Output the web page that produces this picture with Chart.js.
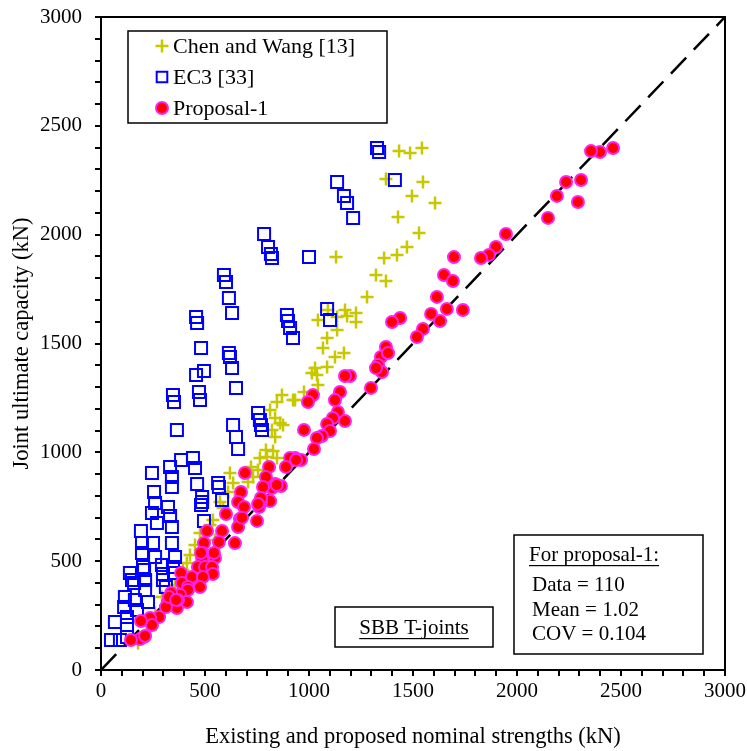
<!DOCTYPE html>
<html><head><meta charset="utf-8">
<script src="https://cdn.jsdelivr.net/npm/chart.js@4.4.1/dist/chart.umd.min.js"></script>
<style>html,body{margin:0;padding:0;background:#fff;}</style>
</head><body>
<canvas id="c" width="747" height="751"></canvas>
<script>
// ---- data ----
const seriesNames = ['Chen and Wang [13]', 'EC3 [33]', 'Proposal-1'];
const chenX = [1543,1486,1433,1370,1548,1495,1606,1428,1529,1471,1423,1361,1130,1322,1370,1279,1173,1226,1091,1043,1135,1226,1183,1135,1087,1067,1168,1125,1087,1029,1014,1038,1043,976,933,870,846,923,813,837,875,822,837,861,793,798,846,764,827,721,731,620,635,707,611,572,587,538,524,476,452,428,413,394,293,260,178,356,332,236,500,548,668,755];
const chenY = [2398,2375,2384,2256,2242,2178,2145,2081,2008,1943,1907,1893,1897,1815,1787,1714,1654,1640,1654,1608,1622,1599,1626,1562,1525,1479,1456,1438,1392,1387,1364,1355,1309,1277,1240,1263,1231,1240,1194,1158,1126,1103,1070,1135,1011,979,974,974,1006,933,887,905,859,864,818,772,744,689,666,629,574,528,492,459,335,262,124,391,322,184,505,597,804,919];
const ecX = [1327,1337,1413,1135,1168,1183,1212,784,803,817,822,1000,591,601,615,630,457,462,894,899,909,923,1087,1101,481,615,620,630,457,495,649,346,351,471,476,365,635,649,659,755,764,769,774,385,442,452,245,332,341,341,462,563,567,486,486,481,582,255,260,245,269,322,332,341,495,192,197,250,197,260,341,356,139,207,212,149,293,298,298,312,346,351,212,159,115,111,163,173,125,67,125,48,91,125,226,202];
const ecY = [2398,2380,2251,2242,2178,2145,2077,2003,1943,1911,1893,1897,1815,1783,1709,1640,1622,1594,1631,1603,1571,1525,1659,1608,1479,1456,1438,1387,1355,1374,1296,1263,1231,1277,1240,1103,1126,1070,1015,1181,1149,1126,1103,965,974,928,905,933,887,841,855,859,841,795,772,758,781,818,767,721,675,749,707,657,685,639,583,583,538,519,583,519,446,459,413,413,482,441,413,381,473,446,368,400,335,289,322,276,243,221,207,138,138,152,312,473];
const propX = [2462,2399,2356,2308,2236,2192,2293,2149,1947,1899,1865,1827,1697,1649,1692,1615,1663,1740,1587,1630,1438,1399,1548,1519,1370,1346,1380,1332,1351,1322,1197,1173,1298,1149,1125,1019,995,1139,1173,1115,1087,1101,1062,1038,976,1024,933,909,962,889,865,837,808,822,813,692,793,779,673,769,760,659,688,750,601,668,659,582,510,644,567,495,490,548,486,466,500,534,385,437,538,490,476,389,418,418,380,337,322,365,312,413,279,236,245,192,207,188,144,370,327,769,755,543,938,212,361,481,678,845];
const propY = [2398,2380,2384,2251,2242,2178,2150,2077,2003,1943,1907,1893,1897,1815,1787,1714,1659,1654,1636,1603,1617,1599,1567,1530,1484,1438,1456,1401,1369,1387,1351,1351,1296,1277,1240,1263,1231,1185,1144,1158,1130,1098,1075,1066,1103,1015,974,974,965,933,845,855,933,836,776,905,887,841,818,772,749,772,749,685,717,694,657,639,639,583,588,583,538,515,515,473,473,473,446,427,441,427,381,400,381,368,345,354,312,285,289,312,243,239,207,225,152,142,138,322,335,790,763,538,965,156,322,538,700,850];
const lineX = [0, 3000];
const lineY = [0, 3000];
const axisMin = 0, axisMax = 3000, minorStep = 100, majorStep = 500;
const xTitle = 'Existing and proposed nominal strengths (kN)';
const yTitle = 'Joint ultimate capacity (kN)';
const boxTitle = 'SBB T-joints';
const statLines = ['For proposal-1:', 'Data = 110', 'Mean = 1.02', 'COV = 0.104'];

const zip = (xs, ys) => xs.map((x, i) => ({x, y: ys[i]}));
const FONT = "'Liberation Serif', 'Times New Roman', serif";

const styles = [
  {pointStyle:'cross', radius:6.5, borderWidth:2.5, borderColor:'#c8c800', backgroundColor:'#c8c800'},
  {pointStyle:'rect', radius:8.5, borderWidth:2, borderColor:'#0000ff', backgroundColor:'rgba(0,0,0,0)'},
  {pointStyle:'circle', radius:6, borderWidth:2, borderColor:'#ff22ee', backgroundColor:'#ff0000'}
];

function mk(i, data, order) {
  const s = styles[i];
  return {label: seriesNames[i], data, order, showLine:false,
    pointStyle: s.pointStyle, pointRadius: s.radius, pointHoverRadius: s.radius,
    pointBorderWidth: s.borderWidth, borderColor: s.borderColor, backgroundColor: s.backgroundColor,
    pointBorderColor: s.borderColor, pointBackgroundColor: s.backgroundColor};
}

const deco = {
  id:'deco',
  afterDraw(chart) {
    const ctx = chart.ctx, a = chart.chartArea;
    ctx.save();
    ctx.strokeStyle = '#000'; ctx.lineWidth = 2;
    ctx.strokeRect(a.left, a.top, a.right - a.left, a.bottom - a.top);
    // legend
    ctx.lineWidth = 1.5;
    ctx.strokeRect(128, 31, 259, 92);
    ctx.font = '22px ' + FONT; ctx.fillStyle = '#000';
    ctx.textBaseline = 'middle'; ctx.textAlign = 'left';
    const ly = [46, 77, 108];
    for (let i = 0; i < 3; i++) {
      const s = styles[i];
      ctx.save();
      ctx.strokeStyle = s.borderColor; ctx.fillStyle = s.backgroundColor; ctx.lineWidth = s.borderWidth;
      Chart.helpers.drawPoint(ctx, {pointStyle:s.pointStyle, radius: i===1 ? 7.5 : s.radius, borderWidth:s.borderWidth, rotation:0}, 162, ly[i]);
      ctx.restore();
      ctx.fillText(seriesNames[i], 173, ly[i] + 1);
    }
    // SBB box
    ctx.lineWidth = 1.5;
    ctx.strokeRect(335, 607, 158, 40);
    ctx.font = '21px ' + FONT; ctx.textAlign = 'center';
    ctx.fillText(boxTitle, 414, 628);
    let w = ctx.measureText(boxTitle).width;
    ctx.fillRect(414 - w/2, 638, w, 1.2);
    // stats box
    ctx.strokeRect(514, 535, 189, 119);
    ctx.textAlign = 'left';
    ctx.fillText(statLines[0], 529, 555);
    w = ctx.measureText(statLines[0]).width;
    ctx.fillRect(529, 565, w, 1.2);
    ctx.fillText(statLines[1], 532, 585);
    ctx.fillText(statLines[2], 532, 610);
    ctx.fillText(statLines[3], 532, 634);
    ctx.restore();
  }
};

function axis(title, isX) {
  return {
    type:'linear', min:axisMin, max:axisMax,
    ticks:{stepSize:minorStep, autoSkip:false, maxRotation:0, minRotation:0, padding: isX ? 3 : 13,
      color:'#000', font:{family:FONT, size:21},
      callback: v => (v % majorStep === 0 ? String(v) : '')},
    grid:{drawOnChartArea:false, drawTicks:true, tickLength:6, color:'#000', lineWidth:2},
    border:{display:true, color:'#000', width:2},
    title:{display:true, text:title, color:'#000', font:{family:FONT, size:22.5},
      padding: isX ? {top:0, bottom:0.5} : {top:8.5, bottom:0}},
    afterFit: s => {
      if (isX) { s.height = 81; s.paddingLeft = 0; s.paddingRight = 0; }
      else { s.width = 101; s.paddingTop = 0; s.paddingBottom = 0; }
    }
  };
}

new Chart(document.getElementById('c'), {
  type:'scatter',
  data:{datasets:[
    mk(2, zip(propX, propY), 0),
    mk(1, zip(ecX, ecY), 1),
    mk(0, zip(chenX, chenY), 2),
    {type:'line', label:'1:1', data: zip(lineX, lineY), order:3, showLine:true,
     borderColor:'#000', borderWidth:2.5, borderDash:[22,11], pointRadius:0, fill:false}
  ]},
  options:{
    responsive:false, animation:false, devicePixelRatio:1,
    layout:{padding:{left:0, top:17, right:22, bottom:0}},
    plugins:{legend:{display:false}, tooltip:{enabled:false}},
    scales:{x: axis(xTitle, true), y: axis(yTitle, false)}
  },
  plugins:[deco]
});
</script>
</body></html>
